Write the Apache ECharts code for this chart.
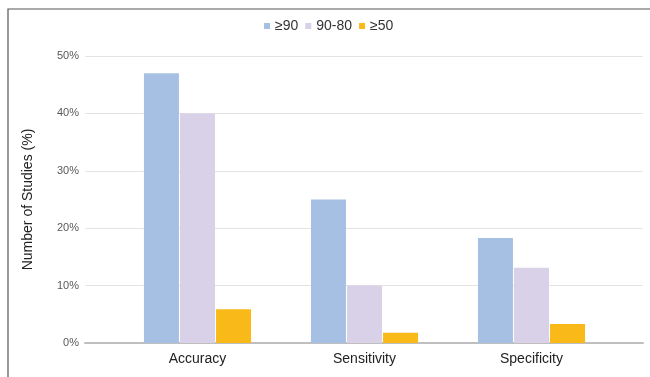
<!DOCTYPE html>
<html>
<head>
<meta charset="utf-8">
<script src="https://cdn.jsdelivr.net/npm/echarts@6/dist/echarts.min.js"></script>
<style>
html,body{margin:0;padding:0;background:#fff;}
#c{width:650px;height:377px;}
</style>
</head>
<body>
<div id="c"></div>
<script>
var categories = ['Accuracy', 'Sensitivity', 'Specificity'];
var seriesNames = ['≥90', '90-80', '≥50'];
var s90 = [47.0, 25.0, 18.3];
var s9080 = [40.0, 10.0, 13.1];
var s50 = [5.9, 1.8, 3.3];
var yTicks = [0, 10, 20, 30, 40, 50];
var colors = ['#A6C0E4', '#D9D1E8', '#F8B919'];

var chart = echarts.init(document.getElementById('c'));
var font = '"Liberation Sans", Arial, sans-serif';
var values = [s90, s9080, s50];
var series = seriesNames.map(function (n, i) {
  return {
    name: n, type: 'bar', xAxisIndex: 1, yAxisIndex: 1,
    data: values[i], barWidth: 35, barGap: '3%',
    itemStyle: { color: colors[i] }
  };
});
chart.setOption({
  animation: false,
  textStyle: { fontFamily: font },
  graphic: [{
    type: 'rect', shape: { x: 8, y: 9, width: 700, height: 400 },
    style: { fill: 'none', stroke: '#555', lineWidth: 1.2 }, z: -1
  }],
  legend: {
    data: seriesNames, top: 19, left: 264, padding: 0,
    itemWidth: 6, itemHeight: 6, itemGap: 7, icon: 'rect',
    textStyle: { fontSize: 14, color: '#333', fontFamily: font, padding: 0 }
  },
  grid: [
    { left: 85, right: 7, top: 56, bottom: 34 },
    { left: 114, right: 35, top: 56, bottom: 34 }
  ],
  xAxis: [
    { type: 'category', gridIndex: 0, data: categories,
      axisLine: { lineStyle: { color: '#BFBFBF', width: 2 } },
      axisTick: { show: false }, axisLabel: { show: false } },
    { type: 'category', gridIndex: 1, data: categories,
      axisLine: { show: false }, axisTick: { show: false },
      axisLabel: { fontSize: 14, color: '#222', margin: 9, fontFamily: font } }
  ],
  yAxis: [
    { type: 'value', gridIndex: 0, min: yTicks[0], max: yTicks[yTicks.length - 1], interval: 10,
      name: 'Number of Studies (%)', nameLocation: 'middle', nameGap: 50, nameRotate: 90,
      nameTextStyle: { fontSize: 14, color: '#222', fontFamily: font },
      axisLabel: { formatter: '{value}%', fontSize: 11, color: '#595959', margin: 6, fontFamily: font },
      axisLine: { show: false }, axisTick: { show: false },
      splitLine: { lineStyle: { color: '#E3E3E3', width: 1 } } },
    { type: 'value', gridIndex: 1, min: 0, max: 50, interval: 10, show: false,
      splitLine: { show: false } }
  ],
  series: series
});
</script>
</body>
</html>
